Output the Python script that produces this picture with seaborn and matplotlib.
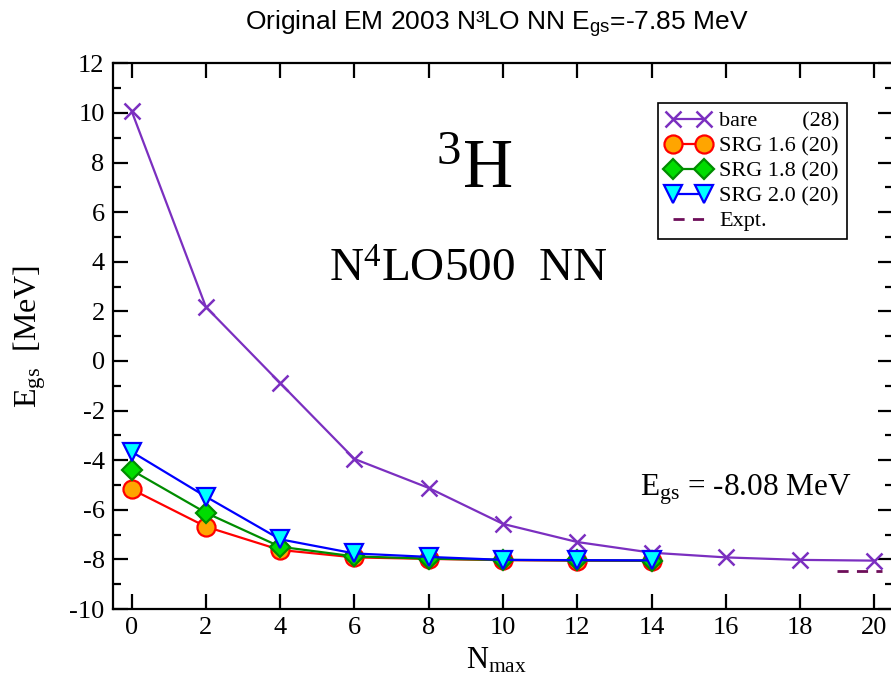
import matplotlib
matplotlib.use("Agg")
import matplotlib.pyplot as plt
import seaborn as sns
import numpy as np

# ---- data ----
nmax_bare = [0, 2, 4, 6, 8, 10, 12, 14, 16, 18, 20]
e_bare = [10.08, 2.18, -0.89, -3.95, -5.12, -6.57, -7.30, -7.73, -7.92, -8.02, -8.05]
nmax_srg = [0, 2, 4, 6, 8, 10, 12, 14]
e_srg16 = [-5.17, -6.68, -7.62, -7.92, -7.98, -8.03, -8.05, -8.06]
e_srg18 = [-4.40, -6.12, -7.49, -7.88, -7.97, -8.02, -8.04, -8.05]
e_srg20 = [-3.66, -5.47, -7.19, -7.76, -7.90, -8.02, -8.03, -8.04]
expt_x = [19.0, 20.2]
expt_y = [-8.48, -8.48]
labels = ["bare        (28)", "SRG 1.6 (20)", "SRG 1.8 (20)", "SRG 2.0 (20)", "Expt."]

sns.set_style("ticks")
plt.rcParams["font.family"] = ["Liberation Serif", "DejaVu Serif"]
plt.rcParams["mathtext.fontset"] = "custom"
plt.rcParams["mathtext.rm"] = "Liberation Serif"
plt.rcParams["mathtext.it"] = "Liberation Serif"
plt.rcParams["mathtext.sf"] = "Liberation Sans"
plt.rcParams["mathtext.default"] = "rm"
plt.rcParams["axes.unicode_minus"] = False
for k in ["text.color", "axes.labelcolor", "xtick.color", "ytick.color", "axes.edgecolor"]:
    plt.rcParams[k] = "black"

fig = plt.figure(figsize=(8.91, 6.83), dpi=100)
W, H = 891, 683
ax = fig.add_axes([113 / W, 1 - 609 / H, (893 - 113) / W, (609 - 63.3) / H])

lw = 1.6
purple = "#7B2FC0"
sns.lineplot(x=nmax_bare, y=e_bare, ax=ax, color=purple, lw=lw, marker="x",
             markersize=12, markeredgewidth=1.8, markeredgecolor=purple, label=labels[0])
sns.lineplot(x=nmax_srg, y=e_srg16, ax=ax, color="#FF0000", lw=lw, marker="o",
             markersize=13, markerfacecolor="#FFA500", markeredgecolor="#FF0000",
             markeredgewidth=1.6, label=labels[1])
sns.lineplot(x=nmax_srg, y=e_srg18, ax=ax, color="#008C00", lw=lw, marker="D",
             markersize=10, markerfacecolor="#00DD00", markeredgecolor="#008C00",
             markeredgewidth=1.6, label=labels[2])
sns.lineplot(x=nmax_srg, y=e_srg20, ax=ax, color="#0000FF", lw=lw, marker="v",
             markersize=13, markerfacecolor="#00FFFF", markeredgecolor="#0000FF",
             markeredgewidth=1.6, label=labels[3])
sns.lineplot(x=expt_x, y=expt_y, ax=ax, color="#6E0E5A", lw=2.0, ls=(0, (4, 3)),
             label=labels[4])

ax.set_xlim(-0.5, 20.5)
ax.set_ylim(-10, 12)
ax.set_xticks(np.arange(0, 21, 2))
ax.set_yticks(np.arange(-10, 13, 2))
ax.set_yticks(np.arange(-9, 12, 2), minor=True)
for s in ax.spines.values():
    s.set_linewidth(1.6)
    s.set_visible(True)
ax.tick_params(which="major", direction="in", length=11, width=1.6, top=True, right=True,
               labelsize=19, pad=6)
ax.tick_params(which="minor", direction="in", length=6, width=1.6, top=False, right=True,
               left=True)

ax.set_xlabel(r"N$_{\mathrm{max}}$", fontsize=22)
ax.set_ylabel(r"E$_{\mathrm{gs}}$  [MeV]", fontsize=23)
ax.xaxis.set_label_coords(0.492, -0.068)
ax.yaxis.set_label_coords(-0.083, 0.5)

ax.text(9.22, 7.66, r"$^{3}$H", fontsize=50, ha="center", va="center")
ax.text(9.06, 3.63, r"N$^{4}$LO500  NN", fontsize=34, ha="center", va="center")
ax.text(16.55, -5.2, r"E$_{\mathrm{gs}}$ = -8.08 MeV", fontsize=22.5, ha="center", va="center")

leg = ax.legend(loc="upper left", bbox_to_anchor=(0.699, 0.927), fontsize=16,
                numpoints=2, handlelength=2.0, labelspacing=0.2, borderpad=0.35,
                handletextpad=0.4, fancybox=False, framealpha=1, edgecolor="black",
                borderaxespad=0)
leg.get_frame().set_linewidth(1.2)

fig.text(497 / W, 1 - 24 / H, r"Original EM 2003 N³LO NN $\mathsf{E}_{\mathsf{gs}}$=-7.85 MeV",
         fontsize=19, family=["Liberation Sans", "DejaVu Sans"], ha="center", va="center")

fig.savefig("out.png", dpi=100)
